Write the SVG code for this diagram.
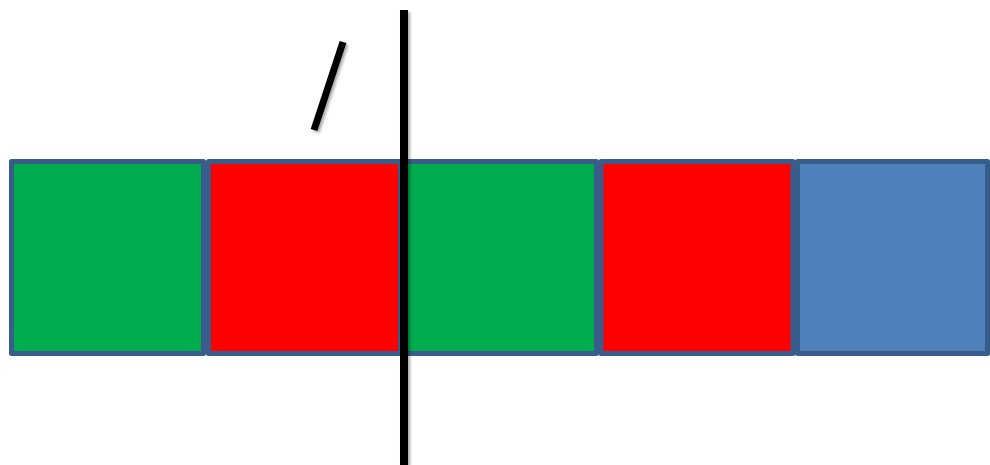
<svg xmlns="http://www.w3.org/2000/svg" width="990" height="465" viewBox="0 0 990 465">
  <style>
    .box { stroke: #385D8A; stroke-width: 5; stroke-linejoin: round; }
    .green { fill: #00AC4E; }
    .red { fill: #FF0000; }
    .blue { fill: #4F81BD; }
    .line { stroke: #000000; fill: none; }
  </style>
  <defs>
    <filter id="shadow" filterUnits="userSpaceOnUse" x="0" y="0" width="990" height="465">
      <feGaussianBlur in="SourceAlpha" stdDeviation="1.5"/>
      <feOffset dx="2" dy="2" result="b"/>
      <feComponentTransfer><feFuncA type="linear" slope="0.35"/></feComponentTransfer>
      <feMerge><feMergeNode/><feMergeNode in="SourceGraphic"/></feMerge>
    </filter>
  </defs>
  <g id="box1"><rect class="box green" x="11.5" y="161.5" width="192" height="192"/></g>
  <g id="box2"><rect class="box red" x="208.5" y="161.5" width="192" height="192"/></g>
  <g id="box3"><rect class="box green" x="404.5" y="161.5" width="192" height="192"/></g>
  <g id="box4"><rect class="box red" x="601" y="161.5" width="192" height="192"/></g>
  <g id="box5"><rect class="box blue" x="797.5" y="161.5" width="190" height="192"/></g>
  <g id="connectors">
    <line class="line" x1="404" y1="10" x2="404" y2="465" stroke-width="8" filter="url(#shadow)"/>
    <line class="line" x1="343" y1="42" x2="314" y2="130" stroke-width="7" filter="url(#shadow)"/>
  </g>
</svg>
